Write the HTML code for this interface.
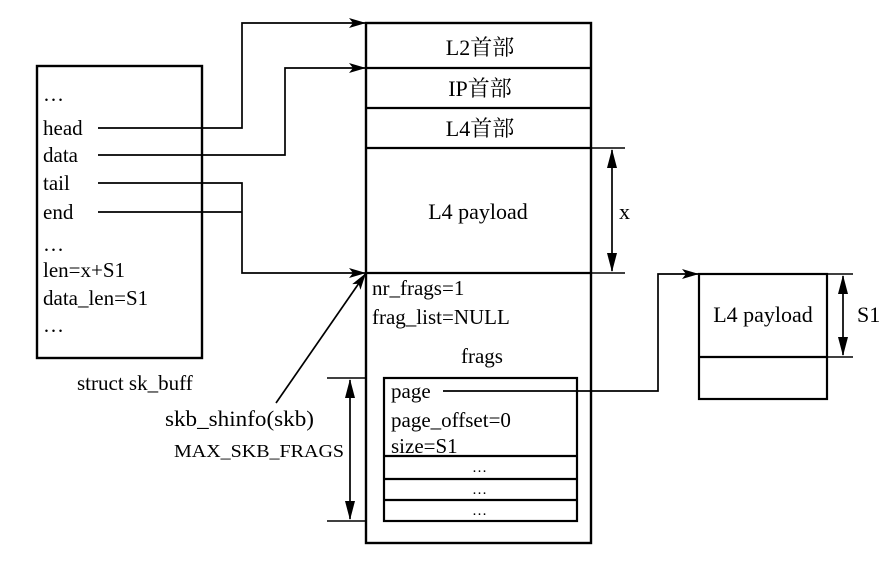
<!DOCTYPE html>
<html><head><meta charset="utf-8"><style>
html,body{margin:0;padding:0;background:#fff;}
svg{display:block;}
text{font-family:"Liberation Serif","Noto Serif CJK SC",serif;fill:#000;}
</style></head><body>
<svg width="886" height="579" viewBox="0 0 886 579" xmlns="http://www.w3.org/2000/svg">
<defs>
<marker id="a" markerWidth="17" markerHeight="10" refX="17" refY="5" orient="auto" markerUnits="userSpaceOnUse">
<path d="M0,0 L17,5 L0,10 L4,5 Z" fill="#000"/></marker>
</defs>
<g stroke="#000" fill="none">
<rect x="37" y="66" width="165" height="292" stroke-width="2.4"/>
<rect x="366" y="23" width="225" height="520" stroke-width="2.4"/>
<line x1="366" y1="68" x2="591" y2="68" stroke-width="2.2"/>
<line x1="366" y1="108" x2="591" y2="108" stroke-width="2.2"/>
<line x1="366" y1="148" x2="591" y2="148" stroke-width="2.2"/>
<line x1="366" y1="273" x2="591" y2="273" stroke-width="2.2"/>
<rect x="384" y="378" width="193" height="143" stroke-width="2.2"/>
<line x1="384" y1="456" x2="577" y2="456" stroke-width="2.2"/>
<line x1="384" y1="479" x2="577" y2="479" stroke-width="2.2"/>
<line x1="384" y1="500" x2="577" y2="500" stroke-width="2.2"/>
<rect x="699" y="274" width="128" height="125" stroke-width="2.2"/>
<line x1="699" y1="357" x2="827" y2="357" stroke-width="2.2"/>
<polyline points="98,128 242,128 242,23 366,23" stroke-width="1.7" marker-end="url(#a)"/>
<polyline points="98,155 285,155 285,68 366,68" stroke-width="1.7" marker-end="url(#a)"/>
<polyline points="98,183 242,183 242,273 366,273" stroke-width="1.7" marker-end="url(#a)"/>
<line x1="98" y1="212" x2="242" y2="212" stroke-width="1.7"/>
<line x1="276" y1="403" x2="366" y2="273" stroke-width="1.7" marker-end="url(#a)"/>
<polyline points="443,391 658,391 658,274 699,274" stroke-width="1.7" marker-end="url(#a)"/>
<line x1="591" y1="148" x2="625" y2="148" stroke-width="1.5"/>
<line x1="591" y1="273" x2="625" y2="273" stroke-width="1.5"/>
<line x1="827" y1="274" x2="853" y2="274" stroke-width="1.5"/>
<line x1="827" y1="357" x2="853" y2="357" stroke-width="1.5"/>
<line x1="327" y1="378" x2="366" y2="378" stroke-width="1.5"/>
<line x1="327" y1="521" x2="366" y2="521" stroke-width="1.5"/>
</g>
<g fill="#000">
<line x1="612" y1="150" x2="612" y2="271" stroke="#000" stroke-width="1.7"/>
<path d="M612,149 L607,168 L617,168 Z"/><path d="M612,272 L607,253 L617,253 Z"/>
<line x1="843" y1="276" x2="843" y2="355" stroke="#000" stroke-width="1.7"/>
<path d="M843,275 L838,294 L848,294 Z"/><path d="M843,356 L838,337 L848,337 Z"/>
<line x1="350" y1="380" x2="350" y2="519" stroke="#000" stroke-width="1.7"/>
<path d="M350,379 L345,398 L355,398 Z"/><path d="M350,520 L345,501 L355,501 Z"/>
</g>
<g font-size="21">
<text x="43" y="101" letter-spacing="1">…</text>
<text x="43" y="135">head</text>
<text x="43" y="162">data</text>
<text x="43" y="190">tail</text>
<text x="43" y="219">end</text>
<text x="43" y="251" letter-spacing="1">…</text>
<text x="43" y="277">len=x+S1</text>
<text x="43" y="305">data_len=S1</text>
<text x="43" y="332" letter-spacing="1">…</text>
<text x="77" y="390">struct sk_buff</text>
<text x="480" y="55" text-anchor="middle" font-size="22">L2首部</text>
<text x="480" y="96" text-anchor="middle" font-size="22">IP首部</text>
<text x="480" y="136" text-anchor="middle" font-size="22">L4首部</text>
<text x="478" y="219" text-anchor="middle" font-size="22">L4 payload</text>
<text x="619" y="219" font-size="22">x</text>
<text x="372" y="295">nr_frags=1</text>
<text x="372" y="324">frag_list=NULL</text>
<text x="482" y="363" text-anchor="middle">frags</text>
<text x="391" y="398">page</text>
<text x="391" y="427">page_offset=0</text>
<text x="391" y="453">size=S1</text>
<text x="480" y="472" text-anchor="middle" font-size="15" letter-spacing="1">…</text>
<text x="480" y="494" text-anchor="middle" font-size="15" letter-spacing="1">…</text>
<text x="480" y="515" text-anchor="middle" font-size="15" letter-spacing="1">…</text>
<text x="165" y="426" font-size="22" textLength="149" lengthAdjust="spacingAndGlyphs">skb_shinfo(skb)</text>
<text x="174" y="457" font-size="18" textLength="170" lengthAdjust="spacingAndGlyphs">MAX_SKB_FRAGS</text>
<text x="763" y="322" text-anchor="middle" font-size="22">L4 payload</text>
<text x="857" y="322" font-size="22">S1</text>
</g>
</svg>
</body></html>
